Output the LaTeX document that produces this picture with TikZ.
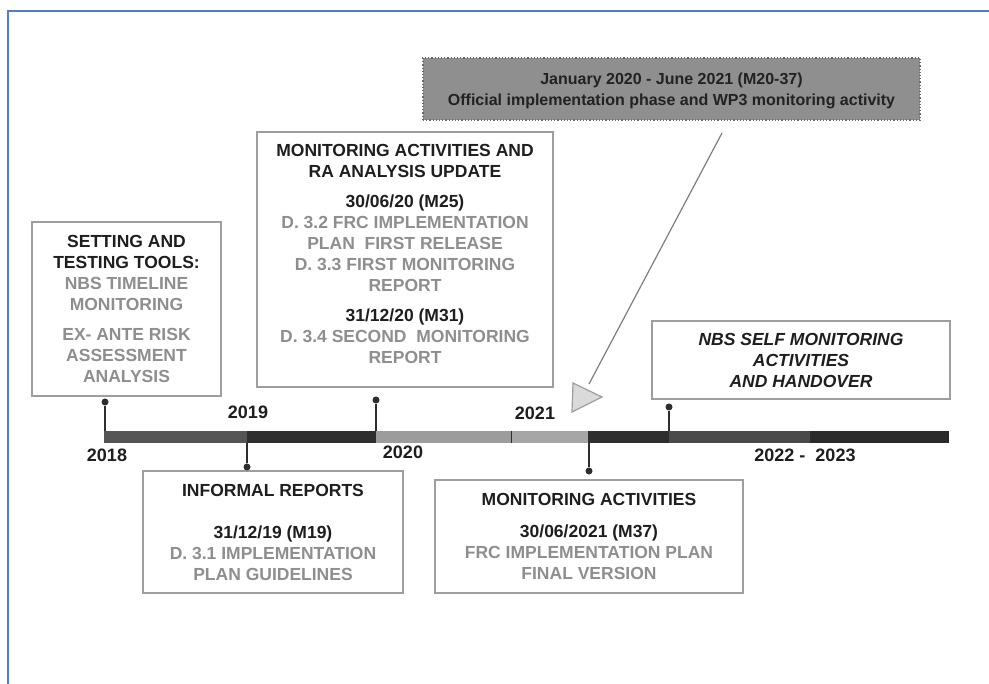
\documentclass[tikz,border=0pt]{standalone}
\usepackage{fontspec}
\setmainfont{Liberation Sans}
\usepackage{tikz}
\usetikzlibrary{arrows.meta}
\definecolor{frameblue}{HTML}{4F7FC8}
\definecolor{boxline}{HTML}{9E9E9E}
\definecolor{txtdark}{HTML}{1E1E1E}
\definecolor{txtgrey}{HTML}{8E8E8E}
\definecolor{phasefill}{HTML}{8F8F8F}
\definecolor{phaseline}{HTML}{6A6A6A}
\definecolor{pinline}{HTML}{2E2E2E}

\begin{document}
\begin{tikzpicture}[x=1pt,y=-1pt]
	\useasboundingbox (0,0) rectangle (989,684);
	\draw [frameblue, line width=1.5pt] (8,684) -- (8,11) -- (989,11);

	% timeline bar
	\fill [fill={rgb,255:red,85;green,85;blue,85}] (104,431) rectangle (247,443);
	\fill [fill={rgb,255:red,46;green,46;blue,46}] (247,431) rectangle (376,443);
	\fill [fill={rgb,255:red,156;green,156;blue,156}] (376,431) rectangle (511,443);
	\fill [fill={rgb,255:red,166;green,166;blue,166}] (511,431) rectangle (588,443);
	\fill [fill={rgb,255:red,46;green,46;blue,46}] (588,431) rectangle (669,443);
	\fill [fill={rgb,255:red,74;green,74;blue,74}] (669,431) rectangle (810,443);
	\fill [fill={rgb,255:red,43;green,43;blue,43}] (810,431) rectangle (949,443);
	\draw [pinline, line width=1pt] (511,431) -- (511,443);

	\begin{scope}[every node/.style={draw=boxline,line width=1.2pt,inner sep=0pt,align=center,text=txtdark,font=\bfseries\fontsize{17.5}{21}\selectfont}]
		\node [minimum width=189pt, minimum height=174pt] (setting) at (126.5,309)
			{SETTING AND\\TESTING TOOLS:\\\textcolor{txtgrey}{NBS TIMELINE}\\\textcolor{txtgrey}{MONITORING}\\[9pt]\textcolor{txtgrey}{EX- ANTE RISK}\\\textcolor{txtgrey}{ASSESSMENT}\\\textcolor{txtgrey}{ANALYSIS}};
		\node [minimum width=296pt, minimum height=255pt] (ra_update) at (405,259.5)
			{MONITORING ACTIVITIES AND\\RA ANALYSIS UPDATE\\[9pt]30/06/20 (M25)\\\textcolor{txtgrey}{D. 3.2 FRC IMPLEMENTATION}\\\textcolor{txtgrey}{PLAN\ \ FIRST RELEASE}\\\textcolor{txtgrey}{D. 3.3 FIRST MONITORING}\\\textcolor{txtgrey}{REPORT}\\[9pt]31/12/20 (M31)\\\textcolor{txtgrey}{D. 3.4 SECOND\ \ MONITORING}\\\textcolor{txtgrey}{REPORT}\\[-10pt]};
		\node [minimum width=298pt, minimum height=78pt, font=\bfseries\itshape\fontsize{17.5}{21}\selectfont] (self_mon) at (801,360)
			{NBS SELF MONITORING\\ACTIVITIES\\AND HANDOVER};
		\node [minimum width=260pt, minimum height=122pt] (informal) at (273,532)
			{INFORMAL REPORTS\\[21pt]31/12/19 (M19)\\\textcolor{txtgrey}{D. 3.1 IMPLEMENTATION}\\\textcolor{txtgrey}{PLAN GUIDELINES}};
		\node [minimum width=308pt, minimum height=113pt] (final_mon) at (589,536.5)
			{MONITORING ACTIVITIES\\[11pt]30/06/2021 (M37)\\\textcolor{txtgrey}{FRC IMPLEMENTATION PLAN}\\\textcolor{txtgrey}{FINAL VERSION}};
		\node [draw=phaseline, dotted, fill=phasefill, minimum width=497pt, minimum height=62pt, text={rgb,255:red,34;green,34;blue,34}, font=\bfseries\fontsize{16}{21}\selectfont] (phase) at (671.5,89)
			{\strut January 2020 - June 2021 (M20-37)\\Official implementation phase and WP3 monitoring activity};
	\end{scope}

	% year labels
	\begin{scope}[every node/.style={inner sep=0pt,text=txtdark,font=\bfseries\fontsize{18}{21}\selectfont}]
		\node (y_2018) at (107,455) {2018};
		\node (y_2019) at (248,412) {2019};
		\node (y_2020) at (403,452) {2020};
		\node (y_2021) at (535,413) {2021};
		\node (y_2022) at (805,455) {2022 -\ \ 2023};
	\end{scope}

	% pins
	\begin{scope}[every node/.style={circle,fill=pinline,inner sep=0pt,minimum size=7pt}]
		\node (p_1) at (105,402) {};
		\node (p_2) at (247,467) {};
		\node (p_3) at (376,400) {};
		\node (p_4) at (589,471) {};
		\node (p_5) at (669,407) {};
	\end{scope}
	\coordinate (b_1) at (105,431);
	\coordinate (b_2) at (247,443);
	\coordinate (b_3) at (376,431);
	\coordinate (b_4) at (589,443);
	\coordinate (b_5) at (669,431);
	\begin{scope}[pinline, line width=1.3pt]
		\path [draw] (p_1) edge (b_1);
		\path [draw] (p_2) edge (b_2);
		\path [draw] (p_3) edge (b_3);
		\path [draw] (p_4) edge (b_4);
		\path [draw] (p_5) edge (b_5);
	\end{scope}

	% pointer from the phase box
	\coordinate (arr_s) at (722,133);
	\coordinate (arr_e) at (589,384);
	\draw [boxline!80!black, line width=1.2pt] (arr_s) -- (arr_e);
	\draw [boxline, line width=1.2pt, fill={rgb,255:red,218;green,218;blue,218}] (573,383) -- (602,397) -- (572,412) -- cycle;
\end{tikzpicture}
\end{document}
